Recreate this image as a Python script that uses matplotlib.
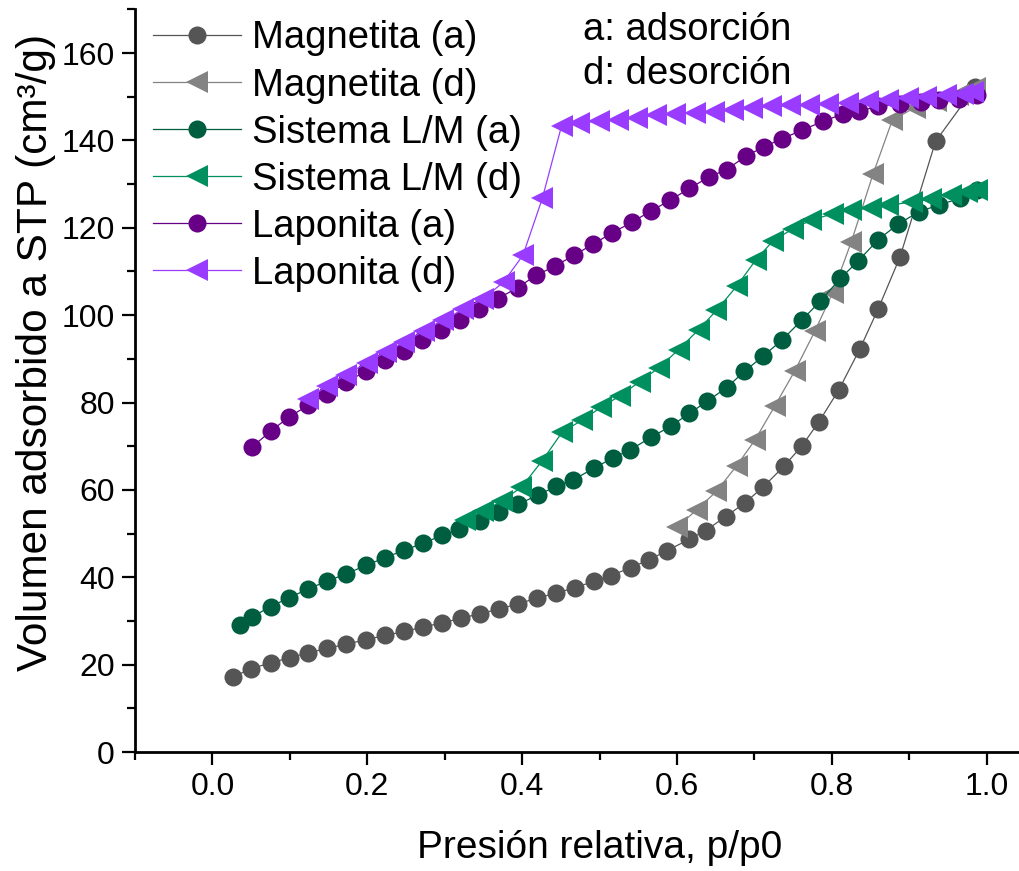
import matplotlib
matplotlib.use("Agg")
import matplotlib.pyplot as plt
from matplotlib.ticker import MultipleLocator

plt.rcParams['font.family'] = ['Liberation Sans', 'DejaVu Sans']

# Magnetita - adsorcion
mag_a_x = [0.027, 0.050, 0.075, 0.100, 0.123, 0.148, 0.173, 0.198, 0.223, 0.248,
           0.272, 0.297, 0.321, 0.346, 0.370, 0.394, 0.419, 0.444, 0.468, 0.493,
           0.515, 0.540, 0.564, 0.587, 0.616, 0.637, 0.663, 0.688, 0.711, 0.738,
           0.761, 0.783, 0.809, 0.836, 0.860, 0.888, 0.934, 0.985]
mag_a_y = [17.2, 19.1, 20.4, 21.6, 22.7, 23.7, 24.7, 25.7, 26.7, 27.6,
           28.6, 29.6, 30.6, 31.7, 32.7, 33.9, 35.2, 36.4, 37.6, 39.1,
           40.4, 42.2, 44.0, 46.1, 48.7, 50.7, 53.9, 57.1, 60.6, 65.4,
           70.0, 75.5, 82.9, 92.2, 101.5, 113.3, 139.8, 152.2]

# Magnetita - desorcion
mag_d_x = [0.985, 0.963, 0.935, 0.907, 0.878, 0.853, 0.825, 0.801, 0.778, 0.752,
           0.726, 0.701, 0.677, 0.651, 0.626, 0.600]
mag_d_y = [152.0, 150.5, 149.0, 147.5, 144.6, 132.2, 116.7, 105.1, 96.3, 87.2,
           79.1, 71.5, 65.5, 59.7, 55.5, 51.5]

# Sistema L/M - adsorcion
lm_a_x = [0.035, 0.051, 0.075, 0.099, 0.123, 0.148, 0.173, 0.198, 0.223, 0.248,
          0.272, 0.297, 0.319, 0.346, 0.370, 0.395, 0.420, 0.444, 0.466, 0.493,
          0.517, 0.539, 0.566, 0.592, 0.616, 0.639, 0.664, 0.687, 0.711, 0.735,
          0.762, 0.785, 0.811, 0.834, 0.860, 0.886, 0.913, 0.938, 0.965, 0.988]
lm_a_y = [29.0, 30.9, 33.3, 35.3, 37.3, 39.1, 40.8, 42.7, 44.5, 46.2,
          47.8, 49.6, 51.0, 52.8, 54.9, 56.7, 58.8, 60.8, 62.3, 65.0,
          67.3, 69.1, 72.0, 74.6, 77.5, 80.3, 83.4, 87.1, 90.6, 94.2,
          99.0, 103.2, 108.4, 112.4, 117.3, 120.9, 123.7, 125.2, 126.7, 128.7]

# Sistema L/M - desorcion
lm_d_x = [0.987, 0.975, 0.954, 0.928, 0.903, 0.872, 0.851, 0.825, 0.801, 0.773,
          0.750, 0.724, 0.702, 0.677, 0.651, 0.628, 0.602, 0.577, 0.552, 0.527,
          0.502, 0.477, 0.452, 0.426, 0.399, 0.374, 0.350, 0.326]
lm_d_y = [128.7, 128.2, 127.4, 126.5, 125.9, 125.1, 124.6, 124.0, 123.2, 121.7,
          119.8, 117.0, 112.7, 106.6, 101.1, 96.7, 92.1, 88.0, 84.8, 81.6,
          78.9, 75.9, 73.3, 66.7, 60.6, 57.5, 55.1, 53.2]

# Laponita - adsorcion
lap_a_x = [0.051, 0.075, 0.099, 0.124, 0.148, 0.173, 0.198, 0.223, 0.247, 0.271,
           0.295, 0.320, 0.344, 0.369, 0.394, 0.418, 0.443, 0.467, 0.491, 0.516,
           0.542, 0.566, 0.591, 0.616, 0.641, 0.664, 0.689, 0.712, 0.736, 0.761,
           0.789, 0.814, 0.835, 0.860, 0.888, 0.915, 0.938, 0.964, 0.987]
lap_a_y = [69.8, 73.4, 76.7, 79.4, 81.9, 84.6, 87.2, 89.7, 91.9, 94.2,
           96.5, 98.8, 101.3, 103.8, 106.3, 109.1, 111.3, 113.7, 116.2, 118.8,
           121.3, 123.8, 126.3, 129.0, 131.6, 133.3, 136.4, 138.5, 140.4, 142.3,
           144.4, 146.0, 146.7, 147.8, 148.4, 148.8, 149.2, 149.5, 150.3]

# Laponita - desorcion
lap_d_x = [0.982, 0.969, 0.947, 0.922, 0.898, 0.872, 0.847, 0.821, 0.795, 0.771,
           0.746, 0.722, 0.697, 0.672, 0.648, 0.623, 0.598, 0.573, 0.548, 0.524,
           0.499, 0.474, 0.451, 0.426, 0.401, 0.376, 0.349, 0.324, 0.298, 0.273,
           0.248, 0.224, 0.199, 0.173, 0.148, 0.123]
lap_d_y = [151.0, 150.7, 150.3, 149.9, 149.7, 149.3, 149.0, 148.6, 148.4, 148.2,
           148.0, 147.8, 147.4, 147.0, 146.6, 146.3, 146.1, 145.7, 145.2, 144.7,
           144.4, 144.0, 143.4, 126.7, 113.7, 107.6, 103.6, 101.3, 98.8, 96.4,
           93.8, 91.6, 89.0, 86.4, 83.7, 80.9]

series = [
    ("Magnetita (a)", mag_a_x, mag_a_y, "o", "#555555"),
    ("Magnetita (d)", mag_d_x, mag_d_y, "<", "#838383"),
    ("Sistema L/M (a)", lm_a_x, lm_a_y, "o", "#005e40"),
    ("Sistema L/M (d)", lm_d_x, lm_d_y, "<", "#008f5f"),
    ("Laponita (a)", lap_a_x, lap_a_y, "o", "#670087"),
    ("Laponita (d)", lap_d_x, lap_d_y, "<", "#9a3cff"),
]

fig = plt.figure(figsize=(10.2, 8.71), dpi=100)
ax = fig.add_axes([0.1324, 0.1366, 0.8676, 0.8527])

for label, x, y, marker, color in series:
    size = 13 if marker == "o" else 16
    ax.plot(x, y, marker=marker, color=color, markersize=size, linewidth=0.9,
            markeredgewidth=0, label=label)

ax.set_xlim(-0.1, 1.043)
ax.set_ylim(0, 170)

ax.spines['top'].set_visible(False)
ax.spines['right'].set_visible(False)
ax.spines['left'].set_linewidth(2)
ax.spines['bottom'].set_linewidth(2)

ax.xaxis.set_major_locator(MultipleLocator(0.2))
ax.xaxis.set_minor_locator(MultipleLocator(0.1))
ax.yaxis.set_major_locator(MultipleLocator(20))
ax.yaxis.set_minor_locator(MultipleLocator(10))
ax.set_xticks([0.0, 0.2, 0.4, 0.6, 0.8, 1.0])
ax.set_xticklabels(["0.0", "0.2", "0.4", "0.6", "0.8", "1.0"])
ax.tick_params(which='major', direction='out', length=9.5, width=1.6, labelsize=23, pad=5)
ax.tick_params(which='minor', direction='out', length=5.5, width=1.6)

ax.set_xlabel("Presión relativa, p/p0", fontsize=28)
ax.set_ylabel("Volumen adsorbido a STP (cm³/g)", fontsize=30.5)
ax.xaxis.set_label_coords(0.525, -0.105)
ax.yaxis.set_label_coords(-0.089, 0.538)

ax.legend(loc='upper left', bbox_to_anchor=(0.0203, 0.985), frameon=False,
          fontsize=27.5, handlelength=2.3, handletextpad=0.3, labelspacing=0.29,
          borderpad=0, borderaxespad=0)

ax.text(0.506, 0.959, "a: adsorción", transform=ax.transAxes, fontsize=27.5,
        ha='left', va='baseline')
ax.text(0.506, 0.899, "d: desorción", transform=ax.transAxes, fontsize=27.5,
        ha='left', va='baseline')

fig.savefig("out.png", dpi=100)
